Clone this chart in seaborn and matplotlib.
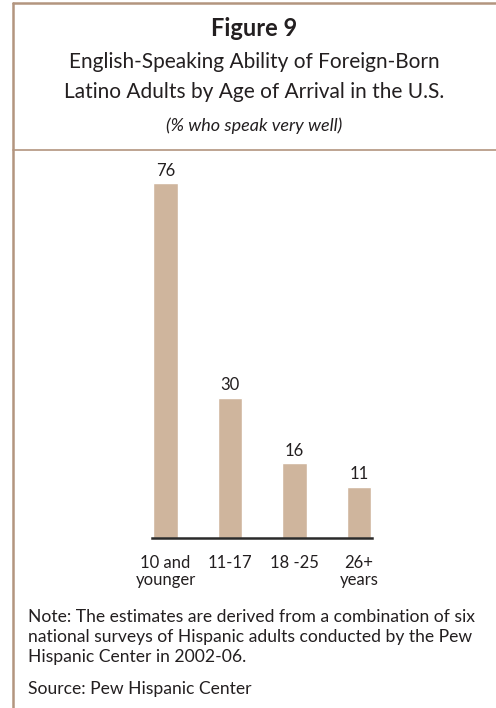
import matplotlib
matplotlib.use("Agg")
import matplotlib.pyplot as plt
import seaborn as sns
import pandas as pd
from matplotlib.lines import Line2D

sns.set_style("white")
plt.rcParams['font.family'] = ['Lato', 'DejaVu Sans']

# data
age_groups = ['10 and\nyounger', '11-17', '18 -25', '26+\nyears']
pct_very_well = [76, 30, 16, 11]

df = pd.DataFrame({'age': age_groups, 'pct': pct_very_well})

W, H = 496, 708
fig = plt.figure(figsize=(W / 100, H / 100), dpi=100)
fig.patch.set_facecolor('white')

def fx(px):
    return px / W

def fy(py):
    return 1 - py / H

bar_color = '#cfb59d'
frame_color = '#b3957f'
text_color = '#231f20'

# axes placed to match baseline 152..372 px, y=538 px
ax = fig.add_axes([fx(152), fy(538), fx(372) - fx(152), fy(160) - fy(538)])
sns.barplot(data=df, x='age', y='pct', color=bar_color, width=0.38,
            saturation=1, ax=ax)
ax.set_xlim(-0.21, 3.2)
ax.set_ylim(0, 81)
ax.set_xlabel('')
ax.set_ylabel('')
ax.set_yticks([])
for s in ['top', 'right', 'left']:
    ax.spines[s].set_visible(False)
ax.spines['bottom'].set_color('#2a2a2a')
ax.spines['bottom'].set_linewidth(1.8)
ax.tick_params(axis='x', length=0, pad=12, labelsize=12, colors=text_color)
for lbl in ax.get_xticklabels():
    lbl.set_linespacing(1.1)

for i, v in enumerate(pct_very_well):
    ax.text(i, v + 1.0, str(v), ha='center', va='bottom', fontsize=12,
            color=text_color)

# frame lines
fig.add_artist(Line2D([fx(13), fx(13)], [fy(3), fy(708)], color=frame_color, lw=1.8))
fig.add_artist(Line2D([fx(13), 1], [fy(3), fy(3)], color=frame_color, lw=1.8))
fig.add_artist(Line2D([fx(13), 1], [fy(150), fy(150)], color=frame_color, lw=1.2))

# titles
cx = fx(254)
fig.text(cx, fy(28), 'Figure 9', ha='center', va='center', fontsize=17,
         fontweight='bold', color=text_color)
fig.text(cx, fy(62), 'English-Speaking Ability of Foreign-Born', ha='center',
         va='center', fontsize=15, color=text_color)
fig.text(cx, fy(92), 'Latino Adults by Age of Arrival in the U.S.', ha='center',
         va='center', fontsize=15, color=text_color)
fig.text(cx, fy(126), '(% who speak very well)', ha='center', va='center',
         fontsize=13, style='italic', color=text_color)

# note and source
note = ('Note: The estimates are derived from a combination of six\n'
        'national surveys of Hispanic adults conducted by the Pew\n'
        'Hispanic Center in 2002-06.')
fig.text(fx(28), fy(609), note, ha='left', va='top', fontsize=12.6,
         linespacing=1.32, color=text_color)
fig.text(fx(28), fy(689), 'Source: Pew Hispanic Center', ha='left', va='center',
         fontsize=12.6, color=text_color)

fig.savefig('out.png', dpi=100, facecolor='white')
